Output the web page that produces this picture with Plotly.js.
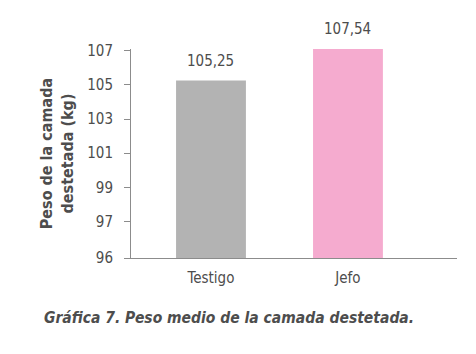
<!DOCTYPE html>
<html>
<head>
<meta charset="utf-8">
<script src="https://cdn.plot.ly/plotly-3.0.1.min.js"></script>
<style>html,body{margin:0;padding:0;background:#fff;}#chart{width:476px;height:354px;}</style>
</head>
<body>
<div id="chart"></div>
<script>
var categories = ["Testigo", "Jefo"];
var values = [105.25, 107.54];
var valueLabels = ["105,25", "107,54"];
var barColors = ["#b3b3b3", "#f5abcf"];
var yTickVals = [94.86, 97, 99, 101, 103, 105, 107];
var yTickText = ["96", "97", "99", "101", "103", "105", "107"];
var yRange = [94.86, 107.1];

var FONT = '"DejaVu Sans Condensed", "Liberation Sans Narrow", sans-serif';
var TXT = '#4d4d4d';

var annotations = categories.map(function (c, i) {
  return {
    x: c, y: Math.min(values[i], yRange[1]), xref: 'x', yref: 'y',
    text: valueLabels[i], showarrow: false, yanchor: 'bottom', yshift: 9,
    font: {family: FONT, size: 15, color: TXT}
  };
});
annotations.push({
  xref: 'paper', yref: 'paper', x: -0.272, y: -0.235, xanchor: 'left', yanchor: 'top',
  text: '<b><i>Gráfica 7. Peso medio de la camada destetada.</i></b>', showarrow: false,
  font: {family: FONT, size: 15.5, color: TXT}
});

var trace = {
  type: 'bar', x: categories, y: values,
  marker: {color: barColors, line: {width: 0}},
  width: 0.51, hoverinfo: 'none'
};

var layout = {
  width: 476, height: 354,
  margin: {l: 131, r: 19, t: 49, b: 96},
  paper_bgcolor: '#fff', plot_bgcolor: '#fff',
  showlegend: false,
  font: {family: FONT, color: TXT, size: 15},
  xaxis: {
    range: [-0.584, 1.796], showline: true, linecolor: '#8c8c8c', linewidth: 1,
    ticks: '', showgrid: false, zeroline: false, fixedrange: true,
    tickfont: {family: FONT, size: 15, color: TXT}, ticklabelstandoff: 6
  },
  yaxis: {
    range: yRange, tickmode: 'array', tickvals: yTickVals, ticktext: yTickText,
    showline: true, linecolor: '#8c8c8c', linewidth: 1,
    ticks: 'outside', ticklen: 6, tickcolor: '#8c8c8c', tickwidth: 1,
    showgrid: false, zeroline: false, fixedrange: true,
    tickfont: {family: FONT, size: 15, color: TXT}, ticklabelstandoff: 8,
    title: {text: '<b>Peso de la camada<br>destetada (kg)</b>', standoff: 9,
      font: {family: FONT, size: 16, color: TXT}}
  },
  annotations: annotations
};

Plotly.newPlot('chart', [trace], layout, {displayModeBar: false, staticPlot: true});
</script>
</body>
</html>
